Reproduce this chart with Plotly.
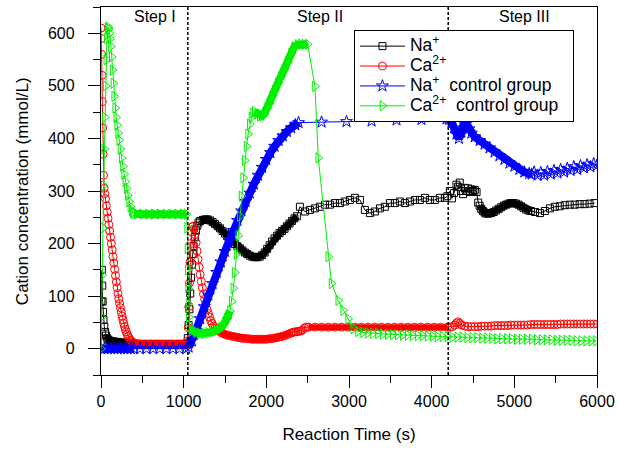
import plotly.graph_objects as go

# ---------------- data ----------------
# Na+ (black squares)
NA_T = [0, 5, 10, 15, 20, 25, 30, 40, 50, 60, 75, 90, 110, 130, 150, 175, 200, 230, 260, 290,
        320, 360, 400, 450, 500, 550, 600, 650, 700, 750, 800, 850, 900, 950, 1000, 1040,
        1050, 1060, 1070, 1080, 1090, 1100, 1110, 1120, 1135, 1150, 1165, 1180, 1200,
        1230, 1260, 1290, 1320, 1350, 1380, 1410, 1440, 1470, 1500, 1530, 1560, 1590, 1620, 1650,
        1680, 1710, 1740, 1770, 1800, 1830, 1860, 1890, 1920, 1950, 1980, 2010, 2040, 2070, 2100,
        2130, 2160, 2190, 2220, 2250, 2280, 2310, 2340, 2370,
        2406, 2467, 2527, 2588, 2648, 2709, 2769, 2830, 2890, 2950, 3011, 3071, 3132, 3192, 3253,
        3313, 3374, 3434, 3495, 3555, 3616, 3676, 3737, 3797, 3858, 3918, 3978, 4039, 4099, 4160,
        4190, 4220, 4245, 4270, 4300, 4320, 4340, 4360, 4380, 4400, 4420, 4440, 4462, 4482, 4502,
        4522, 4543, 4563,
        4580, 4600, 4620, 4640, 4660, 4690, 4720, 4750, 4780, 4810, 4840, 4870, 4900, 4930, 4960,
        4990, 5020, 5050, 5080, 5110, 5140, 5170, 5200,
        5250, 5310, 5370, 5430, 5490, 5550, 5610, 5670, 5730, 5790, 5850, 5910, 5970]
NA_V = [0, 90, 150, 120, 90, 70, 55, 42, 32, 25, 20, 17, 15, 14, 14, 13, 13, 12, 12, 11,
        10, 9, 9, 8, 8, 8, 8, 8, 8, 8, 8, 8, 8, 8, 8, 10,
        20, 45, 75, 105, 135, 160, 180, 195, 212, 225, 234, 240, 243,
        245, 246, 246, 244, 241, 237, 233, 229, 224, 219, 214, 209, 204, 199, 195,
        191, 187, 183, 180, 177, 175, 174, 174, 175, 178, 183, 190, 197, 204, 210,
        215, 220, 224, 228, 233, 238, 243, 248, 252,
        270, 261, 264, 267, 270, 274, 274, 277, 277, 280, 283, 287, 283, 264, 258,
        261, 267, 270, 277, 277, 280, 277, 280, 283, 283, 287, 283, 283, 287, 287,
        290, 300, 286, 296, 312, 308, 316, 300, 294, 306, 300, 305, 298, 303, 300,
        302, 298, 278,
        272, 266, 262, 259, 257, 257, 258, 260, 263, 266, 269, 272, 274, 276, 277,
        277, 276, 274, 271, 268, 265, 263, 262,
        260, 258, 262, 267, 270, 271, 273, 274, 274, 275, 275, 276, 277]

# Ca2+ (red circles)
CA_T = [0, 4, 8, 12, 16, 20, 25, 30, 38, 46, 55, 65, 75, 85, 95, 105, 115, 125, 135, 145,
        155, 165, 175, 185, 195, 205, 215, 225, 235, 245, 255, 265, 275, 285, 295, 305, 318, 331,
        344, 357, 370, 385, 400,
        430, 460, 490, 520, 550, 580, 610, 640, 670, 700, 730, 760, 790, 820, 850, 880, 910, 940,
        970, 1000, 1030,
        1045, 1055, 1062, 1070, 1078, 1086, 1095, 1105, 1115, 1125, 1137, 1150, 1162, 1175, 1188,
        1200, 1213, 1226, 1240, 1254, 1268, 1282, 1297, 1312, 1328, 1344, 1362, 1380, 1400,
        1430, 1460, 1490, 1520, 1550, 1580, 1610, 1640, 1670, 1700, 1730, 1760, 1790, 1820, 1850,
        1880, 1910, 1940, 1970, 2000, 2030, 2060, 2090, 2120, 2150, 2180, 2210, 2240, 2270, 2300,
        2320, 2340, 2360, 2380, 2400, 2420, 2440, 2460, 2480,
        2510, 2590, 2670, 2750, 2830, 2910, 2990, 3070, 3150, 3230, 3310, 3390, 3470, 3550, 3630,
        3710, 3790, 3870, 3950, 4030, 4110, 4190,
        4220, 4250, 4280, 4300, 4320, 4340, 4360,
        4400, 4440, 4480, 4520, 4560, 4600, 4640, 4680, 4720, 4760, 4800, 4840, 4880, 4920, 4960,
        5000, 5040, 5080, 5120, 5160, 5200, 5240, 5280, 5320, 5360, 5400, 5440, 5480, 5520, 5560,
        5600, 5640, 5680, 5720, 5760, 5800, 5840, 5880, 5920, 5960, 6000]
CA_V = [610, 590, 560, 520, 470, 420, 370, 330, 305, 295, 285, 272, 260, 248, 236, 224, 212, 200,
        188, 175, 163, 151, 139, 127, 116, 105, 95, 86, 78, 70, 62, 55, 48, 42, 37, 32, 27, 23,
        19, 16, 14, 12, 11,
        10, 9, 9, 9, 9, 9, 9, 9, 9, 9, 9, 9, 9, 9, 9, 9, 9, 9, 9, 9, 10,
        15, 40, 80, 125, 165, 200, 222, 232, 233, 228, 217, 202, 186, 170, 155,
        141, 128, 116, 104, 94, 84, 75, 67, 60, 53, 48, 43, 39, 36,
        33, 30, 28, 26, 25, 24, 23, 22, 21, 20, 20, 19, 19, 18, 18,
        18, 18, 18, 18, 18, 19, 19, 20, 21, 22, 23, 24, 26, 28, 30,
        31, 32, 32, 33, 33, 34, 36, 39, 41,
        41, 41, 41, 41, 41, 41, 41, 41, 41, 41, 41, 41, 41, 41, 41,
        41, 41, 41, 41, 41, 41, 41,
        41, 42, 45, 49, 51, 48, 45,
        43, 42, 42, 42, 42, 43, 43, 43, 43, 44, 44, 44, 44, 44, 45,
        45, 45, 45, 45, 45, 46, 46, 46, 46, 46, 46, 46, 46, 46, 47,
        47, 47, 47, 47, 47, 47, 47, 47, 47, 47, 47]

# Na+ control group (blue stars)
NAC_T = [0, 40, 80, 120, 160, 200, 240, 280, 320, 360, 400,
         470, 550, 630, 710, 790, 870, 950, 1030,
         1060, 1100, 1150, 1200, 1250, 1300, 1350, 1400, 1450, 1500, 1550, 1600, 1650, 1700,
         1750, 1800, 1850, 1900, 1950, 2000, 2050, 2100, 2150, 2200, 2250, 2300, 2350, 2390,
         2668, 2970, 3273, 3575, 3877, 4180,
         4210, 4240, 4270, 4300, 4330, 4360, 4390, 4420, 4450, 4480, 4520, 4580, 4640, 4700,
         4760, 4820, 4880, 4940, 5000, 5060, 5120, 5180, 5210,
         5240, 5280, 5320, 5360, 5400, 5440, 5480, 5520, 5560, 5600, 5640, 5680, 5720, 5760,
         5800, 5840, 5880, 5920, 5960, 6000]
NAC_V = [0, 0, 0, 0, 0, 0, 0, 0, 0, 0, 0,
         0, 0, 0, 0, 0, 0, 0, 0,
         3, 15, 35, 57, 80, 102, 124, 145, 165, 185, 205, 225, 244, 262,
         280, 296, 313, 330, 345, 360, 373, 385, 396, 405, 413, 420, 426, 430,
         431, 432, 433, 435, 436, 437,
         436, 432, 420, 408, 400, 412, 430, 428, 418, 410, 403, 396, 389, 382,
         374, 367, 360, 353, 347, 341, 336, 333, 332,
         336, 330, 335, 330, 337, 332, 339, 334, 341, 336, 343, 339, 346, 341,
         348, 344, 350, 346, 352, 349]

# Ca2+ control group (green triangles)
CAC_T = [0, 8, 16, 24, 32, 40, 48, 56, 64, 72, 80, 88, 96, 104, 112, 120, 130, 140, 150, 160,
         172, 184, 196, 208, 220, 235, 250, 265, 280, 295, 310, 325, 340, 355, 370, 385, 400,
         430, 500, 570, 640, 710, 780, 850, 920, 990, 1035,
         1042, 1046, 1050, 1054, 1058, 1062, 1068, 1075,
         1100, 1150, 1200, 1250, 1300, 1350, 1400, 1450, 1500, 1530, 1560,
         1580, 1600, 1620, 1640, 1660, 1680, 1700, 1720, 1740, 1760, 1780, 1800, 1820, 1840, 1860,
         1890, 1920, 1950, 1980, 2010, 2040, 2070, 2100, 2140, 2180, 2220, 2260, 2300, 2340, 2380,
         2420, 2460, 2500,
         2588, 2628, 2749, 2789, 2870, 2930, 2990, 3051,
         3110, 3170, 3230, 3290, 3350, 3410, 3470, 3530, 3590, 3650, 3710, 3770, 3830, 3890, 3950,
         4010, 4070, 4130, 4190, 4250, 4310, 4370, 4430, 4490, 4550, 4610, 4670, 4730, 4790, 4850,
         4910, 4970, 5030, 5090, 5150, 5210, 5270, 5330, 5390, 5450, 5510, 5570, 5630, 5690, 5750,
         5810, 5870, 5930, 5990]
CAC_V = [0, 60, 140, 230, 310, 380, 440, 500, 550, 590, 610, 612, 608, 600, 590, 575, 555, 530,
         505, 480, 458, 440, 425, 410, 397, 380, 363, 347, 332, 318, 305, 292, 280, 270, 263, 259,
         257,
         256, 256, 256, 256, 256, 256, 256, 256, 256, 256,
         230, 190, 150, 115, 85, 60, 45, 38,
         34, 31, 29, 29, 30, 32, 35, 40, 50, 58, 72,
         90, 115, 145, 180, 215, 252, 290, 325, 358, 385, 408, 427, 440, 448, 451,
         447, 443, 443, 448, 457, 468, 480, 491, 505, 518, 531, 545, 562, 575, 578,
         579, 579, 579,
         499, 363, 175, 124, 92, 73, 57, 38,
         33, 31, 30, 29, 29, 28, 28, 27, 27, 26, 26, 25, 25, 25, 24,
         24, 23, 23, 23, 22, 22, 22, 21, 21, 21, 20, 20, 20, 19, 19,
         19, 19, 18, 18, 18, 18, 17, 17, 17, 17, 16, 16, 16, 16, 15,
         15, 15, 15, 15]

# time windows where the instrument sampled so densely that markers merge into a band
NA_DENSE = [(60, 1040), (1200, 2370), (4580, 5200)]
CA_DENSE = [(400, 1040), (1430, 2300), (2500, 4200)]
NAC_DENSE = [(0, 410), (1060, 2390), (4200, 5210)]
CAC_DENSE = [(400, 1040), (1075, 1570), (1860, 2500)]

STEP_BOUNDS = [1050, 4200]
STEP_LABELS = ["Step I", "Step II", "Step III"]
STEP_LABEL_X = [653, 2648, 5127]

FONT = "Liberation Sans, Arial, sans-serif"
LEG = '<span style="font-size:17.5px">{}</span>'

series = [
    ("Na<sup>+</sup>", NA_T, NA_V, NA_DENSE, "#000000", "square-open", 7, 7),
    ("Ca<sup>2+</sup>", CA_T, CA_V, CA_DENSE, "#ff0000", "circle-open", 8, 6),
    ("Na<sup>+</sup>  control group", NAC_T, NAC_V, NAC_DENSE, "#0000ff", "star-open", 9, 8),
    ("Ca<sup>2+</sup>  control group&nbsp;&nbsp;", CAC_T, CAC_V, CAC_DENSE, "#00ee00",
     "triangle-right-open", 9, 8),
]

fig = go.Figure()
for name, ts, vs, dense, color, symbol, msize, bandw in series:
    bx, by = [], []
    for a, b in dense:
        for t, v in zip(ts, vs):
            if a <= t <= b:
                bx.append(t)
                by.append(v)
        bx.append(None)
        by.append(None)
    fig.add_trace(go.Scatter(x=bx, y=by, mode="lines", showlegend=False, hoverinfo="skip",
                             line=dict(color=color, width=bandw), connectgaps=False))
    fig.add_trace(go.Scatter(x=ts, y=vs, mode="lines+markers", name=LEG.format(name),
                             line=dict(color=color, width=1),
                             marker=dict(symbol=symbol, size=msize, color=color,
                                         line=dict(width=1, color=color))))

for xb in STEP_BOUNDS:
    fig.add_shape(type="line", x0=xb, x1=xb, xref="x", yref="paper", y0=0, y1=1,
                  line=dict(color="black", width=1.5, dash="3px,2px"))

for lab, lx in zip(STEP_LABELS, STEP_LABEL_X):
    fig.add_annotation(x=lx, y=0.973, xref="x", yref="paper", text=lab, showarrow=False,
                       font=dict(family=FONT, size=16, color="black"), yanchor="middle")

# y-axis title placed as a rotated annotation
fig.add_annotation(x=-0.159, y=0.5, xref="paper", yref="paper",
                   text="Cation concentration (mmol/L)", textangle=-90, showarrow=False,
                   xanchor="center", yanchor="middle",
                   font=dict(family=FONT, size=17, color="black"))

axis_common = dict(showline=True, linecolor="black", linewidth=1.3, mirror=True,
                   ticks="outside", ticklen=12, tickwidth=1.3, tickcolor="black",
                   showgrid=False, zeroline=False,
                   tickfont=dict(family=FONT, size=16, color="black"))

fig.update_xaxes(range=[0, 6000], tick0=0, dtick=1000,
                 minor=dict(dtick=500, ticks="outside", ticklen=7, tickwidth=1.3,
                            tickcolor="black", showgrid=False),
                 title=dict(text="Reaction Time (s)", standoff=18,
                            font=dict(family=FONT, size=17, color="black")),
                 **axis_common)
fig.update_yaxes(range=[-50, 650], tick0=0, dtick=100,
                 minor=dict(dtick=50, ticks="outside", ticklen=7, tickwidth=1.3,
                            tickcolor="black", showgrid=False),
                 ticklabelstandoff=10,
                 **axis_common)

fig.update_layout(
    width=619, height=459,
    margin=dict(l=101, r=22, t=7, b=84, autoexpand=False),
    paper_bgcolor="white", plot_bgcolor="white",
    font=dict(family=FONT, size=16, color="black"),
    legend=dict(x=0.51, y=0.937, xanchor="left", yanchor="top",
                bgcolor="white", bordercolor="black", borderwidth=1,
                font=dict(family=FONT, size=13, color="black"),
                itemwidth=45, tracegroupgap=0),
    showlegend=True,
)

fig.write_html("out.html", config={"displayModeBar": False},
               post_script="document.body.style.margin='0';")
